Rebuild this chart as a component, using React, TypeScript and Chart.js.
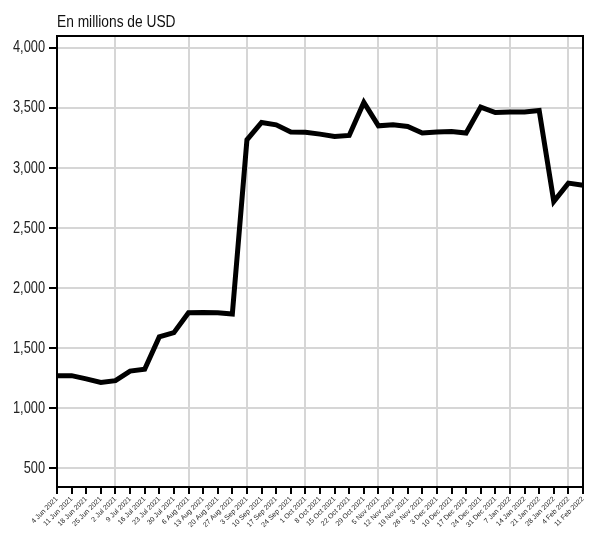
import React, { useEffect, useRef } from "react";
import { Chart, registerables } from "chart.js";

Chart.register(...registerables);

const dateLabels: string[] = [
  "4 Jun 2021", "11 Jun 2021", "18 Jun 2021", "25 Jun 2021",
  "2 Jul 2021", "9 Jul 2021", "16 Jul 2021", "23 Jul 2021", "30 Jul 2021",
  "6 Aug 2021", "13 Aug 2021", "20 Aug 2021", "27 Aug 2021",
  "3 Sep 2021", "10 Sep 2021", "17 Sep 2021", "24 Sep 2021",
  "1 Oct 2021", "8 Oct 2021", "15 Oct 2021", "22 Oct 2021", "29 Oct 2021",
  "5 Nov 2021", "12 Nov 2021", "19 Nov 2021", "26 Nov 2021",
  "3 Dec 2021", "10 Dec 2021", "17 Dec 2021", "24 Dec 2021", "31 Dec 2021",
  "7 Jan 2022", "14 Jan 2022", "21 Jan 2022", "28 Jan 2022",
  "4 Feb 2022", "11 Feb 2022",
];

const valuesUSDm: number[] = [
  1272, 1272, 1245, 1215, 1230, 1310, 1325, 1595, 1630,
  1795, 1797, 1795, 1785,
  3236, 3380, 3360, 3300,
  3298, 3283, 3263, 3272, 3547,
  3352, 3360, 3347, 3292,
  3300, 3305, 3292, 3508, 3463,
  3467, 3467, 3480, 2722,
  2875, 2858,
];

// indices of the first week of each month get a vertical gridline
const monthStartIdx: number[] = [0, 4, 9, 13, 17, 22, 26, 31, 35];

const yTickValues: number[] = [500, 1000, 1500, 2000, 2500, 3000, 3500, 4000];
const titleText = "En millions de USD";

const FONT = "'Liberation Sans', Arial, sans-serif";

export default function App() {
  const ref = useRef<HTMLCanvasElement | null>(null);

  useEffect(() => {
    document.body.style.margin = "0";
    const canvas = ref.current;
    if (!canvas) return;

    const framePlugin = {
      id: "frame",
      afterDraw(chart: any) {
        const { ctx, chartArea } = chart;
        const yScale = chart.scales.y;
        ctx.save();
        ctx.strokeStyle = "#000";
        ctx.lineWidth = 2;
        ctx.strokeRect(chartArea.left, chartArea.top, chartArea.right - chartArea.left, chartArea.bottom - chartArea.top);

        // title (condensed)
        ctx.fillStyle = "#111";
        ctx.font = `16px ${FONT}`;
        ctx.textBaseline = "alphabetic";
        ctx.textAlign = "left";
        ctx.save();
        ctx.translate(chartArea.left, 27);
        ctx.scale(0.86, 1);
        ctx.fillText(titleText, 0, 0);
        ctx.restore();

        // y tick labels (condensed)
        ctx.font = `16px ${FONT}`;
        ctx.textAlign = "right";
        ctx.textBaseline = "middle";
        ctx.fillStyle = "#222";
        for (const v of yTickValues) {
          const y = yScale.getPixelForValue(v);
          ctx.save();
          ctx.translate(45, y);
          ctx.scale(0.8, 1);
          ctx.fillText(v.toLocaleString("en-US"), 0, 0);
          ctx.restore();
        }
        ctx.restore();
      },
    };

    const chart = new Chart(canvas, {
      type: "line",
      data: {
        labels: dateLabels,
        datasets: [
          {
            data: valuesUSDm,
            borderColor: "#000",
            borderWidth: 5,
            pointRadius: 0,
            tension: 0,
            fill: false,
            borderJoinStyle: "miter",
          },
        ],
      },
      options: {
        animation: false,
        responsive: false,
        maintainAspectRatio: false,
        layout: { padding: { top: 36, right: 7, left: 0, bottom: 0 } },
        plugins: { legend: { display: false }, tooltip: { enabled: false }, title: { display: false } },
        scales: {
          x: {
            type: "category",
            offset: false,
            grid: {
              color: (c: any) => (monthStartIdx.includes(c.index) ? "#d6d6d6" : "rgba(0,0,0,0)"),
              lineWidth: 2,
              tickColor: "#000",
              tickLength: 7,
              drawTicks: true,
            },
            border: { color: "#000", width: 2 },
            ticks: {
              autoSkip: false,
              minRotation: 45,
              maxRotation: 45,
              color: "#222",
              padding: 1,
              font: { family: FONT, size: 7 },
            },
            afterFit: (s: any) => { s.height = 49; },
          },
          y: {
            min: 345,
            max: 4100,
            grid: {
              color: "#d6d6d6",
              lineWidth: 2,
              tickColor: "#000",
              tickLength: 8,
            },
            border: { color: "#000", width: 2 },
            ticks: {
              includeBounds: false,
              stepSize: 500,
              color: "rgba(0,0,0,0)",
              padding: 4,
              font: { family: FONT, size: 16 },
              callback: (v: any) => Number(v).toLocaleString("en-US"),
            },
            afterBuildTicks: (s: any) => {
              s.ticks = yTickValues.map((v) => ({ value: v }));
            },
            afterFit: (s: any) => { s.width = 57; },
          },
        },
      },
      plugins: [framePlugin],
    } as any);

    return () => chart.destroy();
  }, []);

  return (
    <div style={{ position: "fixed", left: 0, top: 0, width: 590, height: 536, background: "#fff" }}>
      <canvas ref={ref} width={590} height={536} style={{ width: 590, height: 536 }} />
    </div>
  );
}
